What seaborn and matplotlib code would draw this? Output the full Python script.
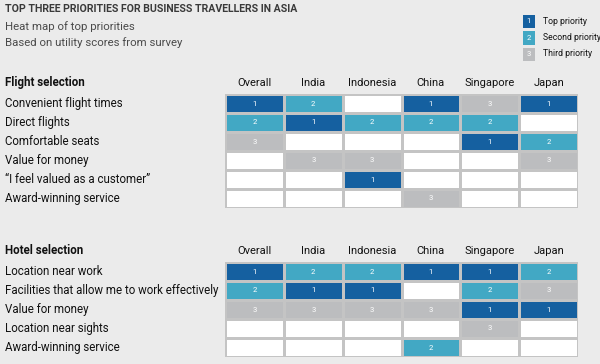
import numpy as np
import seaborn as sns
import matplotlib.pyplot as plt
from matplotlib.colors import ListedColormap
from matplotlib.transforms import blended_transform_factory

# data: 1 = top priority, 2 = second, 3 = third, 0 = not in top three
countries = ["Overall", "India", "Indonesia", "China", "Singapore", "Japan"]

flight_items = ["Convenient flight times", "Direct flights", "Comfortable seats",
                "Value for money", "\u201cI feel valued as a customer\u201d",
                "Award-winning service"]
flight_ranks = [[1, 2, 0, 1, 3, 1],
                [2, 1, 2, 2, 2, 0],
                [3, 0, 0, 0, 1, 2],
                [0, 3, 3, 0, 0, 3],
                [0, 0, 1, 0, 0, 0],
                [0, 0, 0, 3, 0, 0]]

hotel_items = ["Location near work", "Facilities that allow me to work effectively",
               "Value for money", "Location near sights", "Award-winning service"]
hotel_ranks = [[1, 2, 2, 1, 1, 2],
               [2, 1, 1, 0, 2, 3],
               [3, 3, 3, 3, 1, 1],
               [0, 0, 0, 0, 3, 0],
               [0, 0, 0, 2, 0, 0]]

legend_labels = ["Top priority", "Second priority", "Third priority"]

BG = "#ebebeb"
cmap = ListedColormap(["#ffffff", "#1560a0", "#42a8c4", "#bcbdbf"])

plt.rcParams["font.family"] = ["Roboto", "DejaVu Sans"]

W, H = 600, 364
fig = plt.figure(figsize=(6, 3.64), dpi=100, facecolor=BG)


def px_axes(x0, y0, x1, y1):
    return fig.add_axes([x0 / W, 1 - y1 / H, (x1 - x0) / W, (y1 - y0) / H])


def draw_block(ax, ranks, items, title):
    arr = np.array(ranks)
    annot = np.where(arr > 0, arr.astype(str), "")
    sns.heatmap(arr, ax=ax, cmap=cmap, vmin=-0.5, vmax=3.5, cbar=False,
                annot=annot, fmt="", linewidths=1, linecolor="#c4c4c4",
                annot_kws={"fontsize": 5.5, "color": "white"})
    ax.set_xticks([])
    ax.set_yticks([])
    tr = blended_transform_factory(fig.transFigure, ax.transData)
    for i, lab in enumerate(items):
        ax.text(5 / W, i + 0.5, lab, transform=tr, ha="left", va="center",
                fontsize=8.3, color="#111111")
    ax.text(5 / W, -0.6, title, transform=tr, ha="left", va="center",
            fontsize=8.3, fontweight="bold", color="#111111")
    for j, c in enumerate(countries):
        ax.text(j + 0.5, -0.6, c, ha="center", va="center", fontsize=8,
                color="#111111")


ax1 = px_axes(225, 94, 578, 208)
draw_block(ax1, flight_ranks, flight_items, "Flight selection")

ax2 = px_axes(225, 262, 578, 357)
draw_block(ax2, hotel_ranks, hotel_items, "Hotel selection")

# legend as a tiny heatmap
axl = px_axes(521, 13, 536, 62)
sns.heatmap(np.array([[1], [2], [3]]), ax=axl, cmap=cmap, vmin=-0.5, vmax=3.5,
            cbar=False, annot=True, fmt="d", linewidths=1, linecolor=BG,
            annot_kws={"fontsize": 5.5, "color": "white"})
axl.set_xticks([])
axl.set_yticks([])
trl = blended_transform_factory(fig.transFigure, axl.transData)
for i, lab in enumerate(legend_labels):
    axl.text(543 / W, i + 0.5, lab, transform=trl, ha="left", va="center",
             fontsize=6.2, color="#111111")

fig.text(5 / W, 1 - 9 / H, "TOP THREE PRIORITIES FOR BUSINESS TRAVELLERS IN ASIA",
         ha="left", va="center", fontsize=7.6, fontweight="bold", color="#3a3a3a")
fig.text(5 / W, 1 - 27 / H, "Heat map of top priorities", ha="left", va="center",
         fontsize=8.2, color="#4a4a4a")
fig.text(5 / W, 1 - 43 / H, "Based on utility scores from survey", ha="left",
         va="center", fontsize=8.2, color="#4a4a4a")

fig.savefig("out.png", dpi=100, facecolor=BG)
